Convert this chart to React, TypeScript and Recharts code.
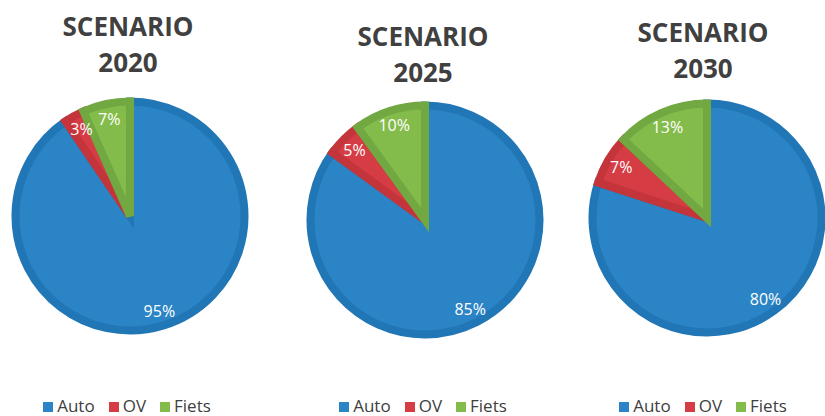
import React from 'react';
import { PieChart, Pie, Cell, Legend } from 'recharts';

const categories = ['Auto', 'OV', 'Fiets'];
const values2020 = [95, 3, 7];
const values2025 = [85, 5, 10];
const values2030 = [80, 7, 13];
const scenarioYears = ['2020', '2025', '2030'];
const titleWord = 'SCENARIO';

const fills = ['#2a84c6', '#d63c43', '#84bc4c'];
const strokes = ['#2176b6', '#c3353b', '#72a841'];

const RADIAN = Math.PI / 180;

const layouts = [
  { left: 9, cx: 121, cy: 216, titleX: 128, titleTop: 8 },
  { left: 305, cx: 120, cy: 220, titleX: 423, titleTop: 18 },
  { left: 585, cx: 122, cy: 218, titleX: 703, titleTop: 14 },
];

const renderLabel = (props: any) => {
  const { cx, cy, midAngle, outerRadius, value } = props;
  const r = outerRadius * 0.87;
  const x = cx + r * Math.cos(-midAngle * RADIAN);
  const y = cy + r * Math.sin(-midAngle * RADIAN);
  return (
    <text
      x={x}
      y={y}
      fill="#ffffff"
      textAnchor="middle"
      dominantBaseline="central"
      fontSize={16}
      fontFamily="'Open Sans', sans-serif"
    >
      {`${value}%`}
    </text>
  );
};

const series = [values2020, values2025, values2030];

export default function App() {
  return (
    <div
      style={{
        position: 'absolute',
        left: 0,
        top: 0,
        width: 825,
        height: 416,
        overflow: 'hidden',
        background: '#ffffff',
        fontFamily: "'Open Sans', sans-serif",
      }}
    >
      {series.map((vals, i) => {
        const lay = layouts[i];
        const data = categories.map((c, k) => ({ name: c, value: vals[k] }));
        return (
          <React.Fragment key={i}>
            <div
              style={{
                position: 'absolute',
                left: lay.titleX - 100,
                top: lay.titleTop,
                width: 200,
                textAlign: 'center',
                fontSize: 26,
                fontWeight: 700,
                lineHeight: '36px',
                color: '#404040',
              }}
            >
              <div>{titleWord}</div>
              <div>{scenarioYears[i]}</div>
            </div>
            <div style={{ position: 'absolute', left: lay.left, top: 0 }}>
              <PieChart width={250} height={416} margin={{ top: 0, right: 0, bottom: 0, left: 0 }}>
                <Pie
                  data={data}
                  dataKey="value"
                  nameKey="name"
                  cx={lay.cx}
                  cy={lay.cy}
                  outerRadius={114.5}
                  startAngle={90}
                  endAngle={-270}
                  strokeWidth={8}
                  label={renderLabel}
                  labelLine={false}
                  isAnimationActive={false}
                >
                  {data.map((d, k) => (
                    <Cell key={d.name} fill={fills[k]} stroke={strokes[k]} />
                  ))}
                </Pie>
                <Legend
                  iconType="square"
                  iconSize={10}
                  itemSorter={(item: any) => categories.indexOf(item.value)}
                  wrapperStyle={{ top: 396, left: 0, width: 250, fontSize: 17, lineHeight: '20px' }}
                  formatter={(value: any) => (
                    <span style={{ color: '#404040', fontSize: 17, marginRight: 4 }}>{value}</span>
                  )}
                />
              </PieChart>
            </div>
          </React.Fragment>
        );
      })}
    </div>
  );
}
